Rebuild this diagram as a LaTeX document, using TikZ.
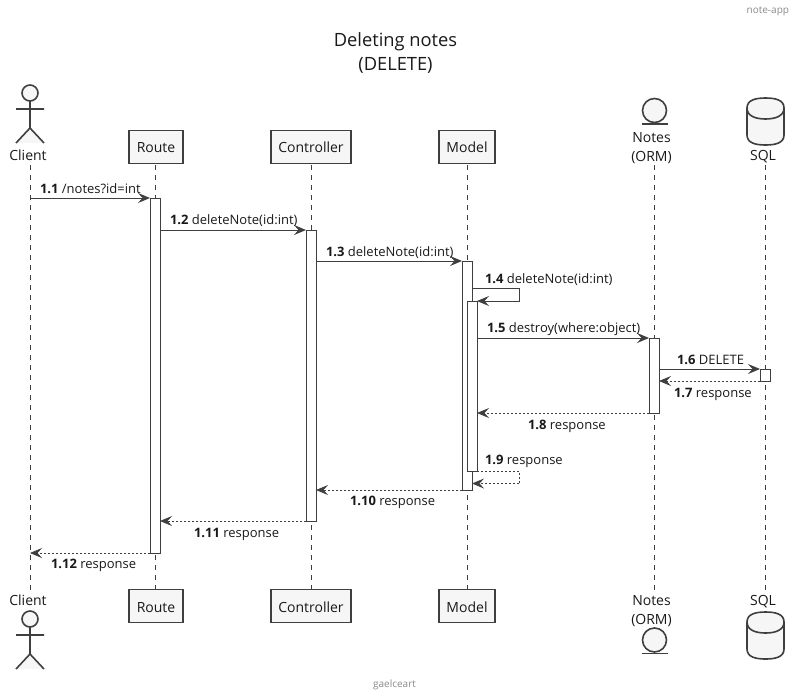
\documentclass[tikz,border=0pt]{standalone}
\usepackage{fontspec}
\setmainfont{Open Sans}
\usetikzlibrary{arrows.meta,shapes.geometric,calc}
\definecolor{ln}{HTML}{3F3F3F}
\definecolor{bx}{HTML}{F6F6F6}
\definecolor{gr}{HTML}{8A8A8A}
\tikzset{
  x=1pt,y=-1pt,
  every node/.style={inner sep=0pt,outer sep=0pt,font=\fontsize{14pt}{16pt}\selectfont,text=black!90},
  part/.style={draw=ln,line width=1.2pt,fill=bx,minimum height=33pt,anchor=center,text height=12pt,text depth=0pt},
  lifeline/.style={draw=ln,line width=0.8pt,dash pattern=on 5pt off 5pt},
  bar/.style={draw=ln,line width=0.9pt,fill=white,minimum width=10pt,anchor=north},
  msg/.style={draw=ln,line width=1pt,-{Stealth[length=12pt,width=10pt,inset=4.5pt,color=ln]}},
  ret/.style={draw=ln,line width=0.8pt,dash pattern=on 2pt off 2pt,-{Stealth[length=12pt,width=10pt,inset=4.5pt,color=ln]}},
  lab/.style={font=\fontsize{13pt}{15pt}\selectfont,anchor=base west},
  small/.style={font=\fontsize{10pt}{12pt}\selectfont,text=gr},
  figline/.style={draw=ln,line width=1.6pt,fill=bx}
}
\newcommand{\actorfig}[2]{%
  \draw[figline] (#1,#2) circle (8pt);
  \draw[figline] (#1,#2+8) -- (#1,#2+35) (#1-14,#2+16) -- (#1+14,#2+16)
     (#1-14,#2+50) -- (#1,#2+35) -- (#1+14,#2+50);
}
\newcommand{\entityfig}[2]{%
  \draw[figline] (#1,#2) circle (12pt);
  \draw[figline] (#1-13,#2+13.5) -- (#1+13,#2+13.5);
}
\newcommand{\dbfig}[2]{%
  \draw[figline] (#1-18.5,#2+10) .. controls (#1-18.5,#2+2) and (#1-10,#2) .. (#1,#2)
    .. controls (#1+10,#2) and (#1+18.5,#2+2) .. (#1+18.5,#2+10)
    -- (#1+18.5,#2+37) .. controls (#1+18.5,#2+45) and (#1+10,#2+47) .. (#1,#2+47)
    .. controls (#1-10,#2+47) and (#1-18.5,#2+45) .. (#1-18.5,#2+37) -- cycle;
  \draw[draw=ln,line width=1.6pt] (#1-18.5,#2+10) .. controls (#1-18.5,#2+18) and (#1-10,#2+21) .. (#1,#2+21)
    .. controls (#1+10,#2+21) and (#1+18.5,#2+18) .. (#1+18.5,#2+10);
}
\begin{document}
\begin{tikzpicture}
\useasboundingbox (0,0) rectangle (799,699);
% header, title, footer
\node[small,anchor=base east] (hdr) at (789,13) {note-app};
\node[font=\fontsize{18.3pt}{21pt}\selectfont,anchor=base] (t1) at (395.5,46) {Deleting notes};
\node[font=\fontsize{18.3pt}{21pt}\selectfont,anchor=base] (t2) at (395.5,70) {(DELETE)};
\node[small,anchor=base] (ftr) at (394.5,687) {gaelceart};
% lifelines
\coordinate (cT) at (30,165);   \coordinate (cB) at (30,592);
\coordinate (rT) at (155,165);  \coordinate (rB) at (155,590);
\coordinate (oT) at (311,165);  \coordinate (oB) at (311,590);
\coordinate (mT) at (467,165);  \coordinate (mB) at (467,590);
\coordinate (nT) at (654.5,165);\coordinate (nB) at (654.5,592);
\coordinate (sT) at (765,165);  \coordinate (sB) at (765,592);
\foreach \p in {c,r,o,m,n,s}{\draw[lifeline] (\p T) -- (\p B);}
% top participants
\actorfig{30}{93}
\node[anchor=base] (client) at (28,160) {Client};
\node[part,minimum width=54pt] (route) at (156,146.7) {Route};
\node[part,minimum width=80pt] (ctrl) at (311,146.7) {Controller};
\node[part,minimum width=56pt] (model) at (467,146.7) {Model};
\entityfig{654.5}{110.5}
\node[anchor=base] (notes) at (651.5,142) {Notes};
\node[anchor=base] (orm) at (651.5,161) {(ORM)};
\dbfig{765.5}{98}
\node[anchor=base] (sql) at (763,160) {SQL};
% bottom participants
\node[anchor=base] (clientb) at (28,605) {Client};
\actorfig{30}{619}
\node[part,minimum width=54pt] (routeb) at (156,606.3) {Route};
\node[part,minimum width=80pt] (ctrlb) at (311,606.3) {Controller};
\node[part,minimum width=56pt] (modelb) at (467,606.3) {Model};
\node[anchor=base] (notesb) at (651.5,605) {Notes};
\node[anchor=base] (ormb) at (651.5,624) {(ORM)};
\entityfig{654.5}{640}
\node[anchor=base] (sqlb) at (763,605) {SQL};
\dbfig{765.5}{612}
% activation bars
\node[bar,minimum height=355pt] (aR) at (155,198) {};
\node[bar,minimum height=291pt] (aO) at (311,230) {};
\node[bar,minimum height=229pt] (aM) at (467,261) {};
\node[bar,minimum height=170pt] (aI) at (472,301) {};
\node[bar,minimum height=75pt]  (aN) at (654,338) {};
\node[bar,minimum height=12pt]  (aS) at (765,369) {};
% messages
\draw[msg] (cT |- aR.north) -- (aR.north west);
\node[lab] (l1) at (40,193) {\textbf{1.1} /notes?id=int};
\draw[msg] (aR.east |- aO.north) -- (aO.north west);
\node[lab] (l2) at (170,224) {\textbf{1.2} deleteNote(id:int)};
\draw[msg] (aO.east |- aM.north) -- (aM.north west);
\node[lab] (l3) at (326,256) {\textbf{1.3} deleteNote(id:int)};
\coordinate (s4) at (519.5,288);
\draw[msg] (aM.east |- s4) -- (s4) -- (s4 |- aI.north) -- (aI.north east);
\node[lab] (l4) at (485,283) {\textbf{1.4} deleteNote(id:int)};
\draw[msg] (aI.east |- aN.north) -- (aN.north west);
\node[lab] (l5) at (487,332) {\textbf{1.5} destroy(where:object)};
\draw[msg] (aN.east |- aS.north) -- (aS.north west);
\node[lab] (l6) at (677,364) {\textbf{1.6} DELETE};
\draw[ret] (aS.south west) -- (aN.east |- aS.south);
\node[lab] (l7) at (674,397) {\textbf{1.7} response};
\draw[ret] (aN.south west) -- (aI.east |- aN.south);
\node[lab] (l8) at (528,429) {\textbf{1.8} response};
\coordinate (s9) at (519.5,471);
\coordinate (e9) at (519.5,483.5);
\draw[ret] (aI.south east) -- (s9) -- (e9) -- (aM.east |- e9);
\node[lab] (l9) at (485,464) {\textbf{1.9} response};
\draw[ret] (aM.south west) -- (aO.east |- aM.south);
\node[lab] (l10) at (350,505) {\textbf{1.10} response};
\draw[ret] (aO.south west) -- (aR.east |- aO.south);
\node[lab] (l11) at (194,537) {\textbf{1.11} response};
\draw[ret] (aR.south west) -- (cT |- aR.south);
\node[lab] (l12) at (51,568) {\textbf{1.12} response};
\end{tikzpicture}
\end{document}
